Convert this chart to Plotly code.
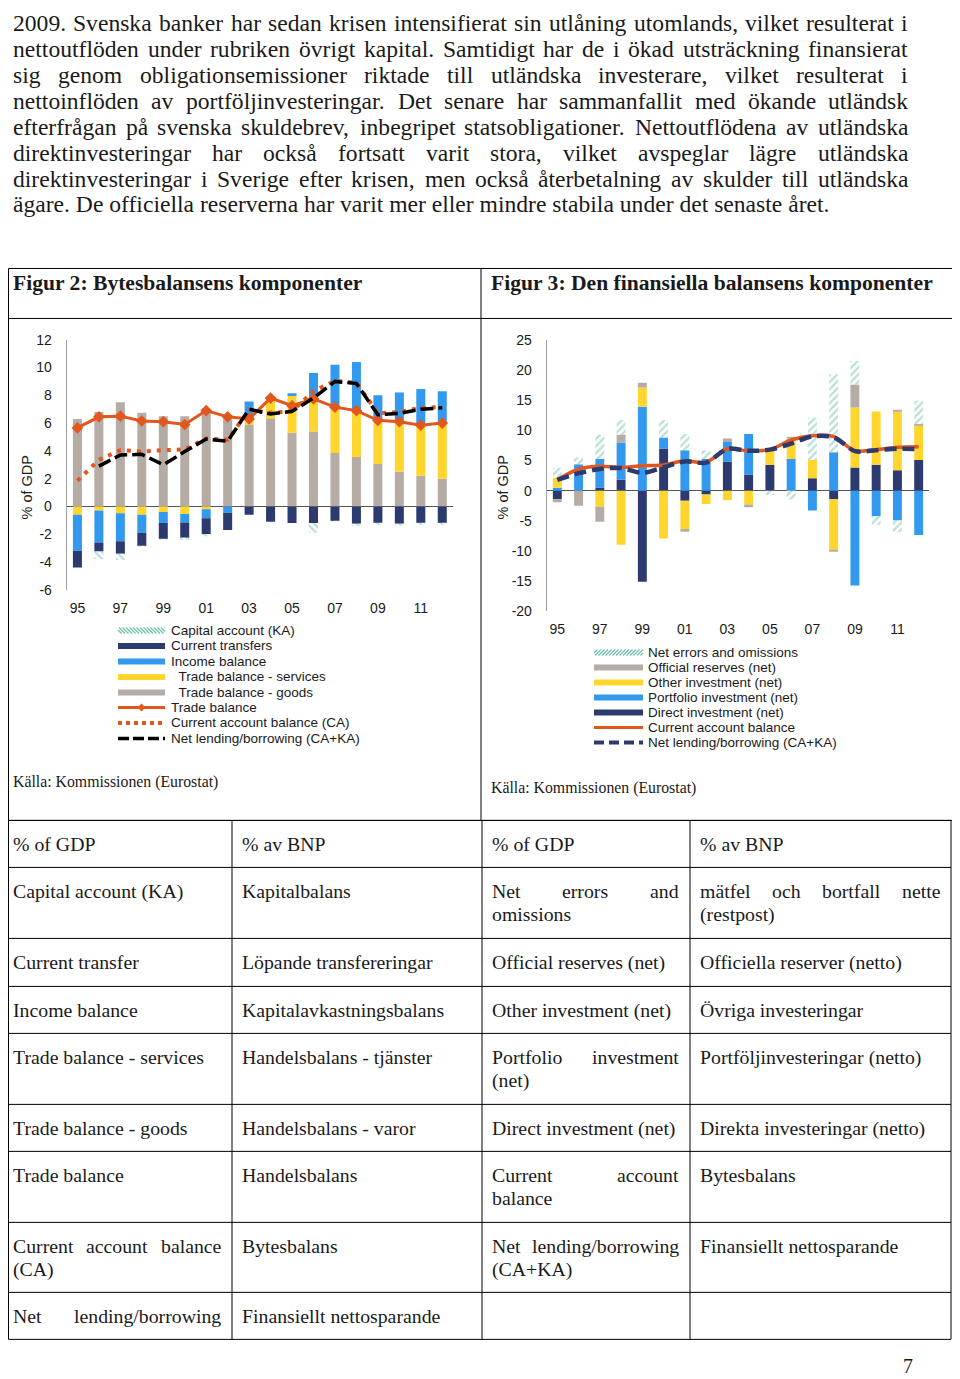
import plotly.graph_objects as go

# ---------------- data ----------------
years = [str(y) for y in range(1995, 2013)]
tick_years = ['1995', '1997', '1999', '2001', '2003', '2005', '2007', '2009', '2011']
tick_text = ['95', '97', '99', '01', '03', '05', '07', '09', '11']
f2_yticks = [-6, -4, -2, 0, 2, 4, 6, 8, 10, 12]
f3_yticks = [-20, -15, -10, -5, 0, 5, 10, 15, 20, 25]

# Figur 2: Bytesbalansens komponenter (% of GDP)
trade_goods = [6.3, 6.8, 7.5, 6.75, 6.5, 6.5, 6.9, 6.35, 5.9, 6.35, 5.3, 5.4, 3.85, 3.55, 3.05, 2.5, 2.2, 2.0]
trade_services = [-0.6, -0.3, -0.5, -0.6, -0.4, -0.55, -0.2, 0.05, 0.35, 1.35, 2.65, 2.15, 3.15, 3.2, 3.05, 3.5, 3.65, 4.0]
income_balance = [-2.6, -2.3, -2.0, -1.3, -0.8, -0.6, -0.65, -0.45, 1.3, 0.0, 0.2, 2.05, 3.2, 3.65, 1.9, 2.2, 2.6, 2.3]
current_transfers = [-1.2, -0.65, -0.9, -0.95, -1.15, -1.1, -1.15, -1.25, -0.6, -1.1, -1.2, -1.2, -1.05, -1.25, -1.2, -1.25, -1.2, -1.2]
capital_account = [0.0, -0.55, -0.45, -0.05, -0.05, -0.15, -0.15, 0.0, 0.0, 0.0, 0.0, -0.7, -0.05, -0.15, -0.1, -0.15, -0.1, -0.1]
trade_balance = [5.65, 6.45, 6.5, 6.15, 6.1, 5.9, 6.9, 6.45, 6.3, 7.8, 7.25, 7.75, 7.15, 6.9, 6.2, 6.1, 5.85, 6.0]
ca_balance_f2 = [1.85, 3.35, 4.05, 3.95, 4.05, 4.1, 4.9, 4.8, 6.95, 6.75, 6.85, 8.3, 9.05, 8.9, 6.7, 6.8, 7.1, 7.15]
net_lending_f2 = [None, 2.9, 3.7, 3.75, 3.0, 3.95, 4.85, 4.7, 7.0, 6.65, 6.85, 7.8, 9.0, 8.85, 6.6, 6.7, 7.0, 7.1]

# Figur 3: Den finansiella balansens komponenter (% of GDP)
direct_inv = [-1.4, 0.0, 0.55, 1.8, -15.1, 7.0, -1.65, -0.65, 4.85, 2.7, 4.3, 0.0, 2.05, -1.4, 3.85, 4.3, 3.4, 5.1]
portfolio_inv = [0.5, 4.4, 4.7, 6.2, 13.9, 1.8, 6.7, 5.25, 3.2, 6.7, 0.0, 5.25, -3.3, 6.35, -15.7, -4.25, -4.95, -7.35]
other_inv = [1.7, 0.0, -2.65, -8.95, 3.2, -7.9, -4.7, -1.55, -1.6, -2.3, 2.6, 3.4, 3.05, -8.45, 9.95, 8.8, 9.7, 5.8]
official_reserves = [-0.5, -2.5, -2.5, 1.3, 0.8, 0.0, -0.45, 0.0, 0.6, -0.45, 0.0, 0.3, 0.0, -0.2, 3.8, 0.0, 0.15, 0.2]
errors_omissions = [1.6, 1.1, 4.0, 2.4, 0.0, 2.9, 2.7, 1.45, 0.0, 0.0, -0.7, -1.45, 7.0, 12.95, 3.9, -1.4, -1.95, 3.8]
ca_balance_f3 = [1.8, 3.6, 4.05, 3.85, 4.15, 4.25, 4.95, 4.7, 6.9, 6.6, 6.8, 8.4, 9.1, 8.95, 6.6, 6.8, 7.2, 7.3]
net_lending_f3 = [1.8, 2.9, 3.6, 3.75, 2.95, 3.9, 4.85, 4.65, 6.95, 6.6, 6.8, 7.8, 9.0, 8.85, 6.55, 6.7, 6.95, 6.9]

legend_f2 = ['Capital account (KA)', 'Current transfers', 'Income balance', '  Trade balance - services',
             '  Trade balance - goods', 'Trade balance', 'Current account balance (CA)', 'Net lending/borrowing (CA+KA)']
legend_f3 = ['Net errors and omissions', 'Official reserves (net)', 'Other investment (net)',
             'Portfolio investment (net)', 'Direct investment (net)', 'Current account balance',
             'Net lending/borrowing (CA+KA)']

paragraph_lines = [
    "2009. Svenska banker har sedan krisen intensifierat sin utlåning utomlands, vilket resulterat i",
    "nettoutflöden under rubriken övrigt kapital. Samtidigt har de i ökad utsträckning finansierat",
    "sig genom obligationsemissioner riktade till utländska investerare, vilket resulterat i",
    "nettoinflöden av portföljinvesteringar. Det senare har sammanfallit med ökande utländsk",
    "efterfrågan på svenska skuldebrev, inbegripet statsobligationer. Nettoutflödena av utländska",
    "direktinvesteringar har också fortsatt varit stora, vilket avspeglar lägre utländska",
    "direktinvesteringar i Sverige efter krisen, men också återbetalning av skulder till utländska",
    "ägare. De officiella reserverna har varit mer eller mindre stabila under det senaste året.",
]
fig2_title = "Figur 2: Bytesbalansens komponenter"
fig3_title = "Figur 3: Den finansiella balansens komponenter"
source_text = "Källa: Kommissionen (Eurostat)"
table_rows = [
    ["% of GDP", "% av BNP", "% of GDP", "% av BNP"],
    ["Capital account (KA)", "Kapitalbalans", "Net errors and|omissions", "mätfel och bortfall nette|(restpost)"],
    ["Current transfer", "Löpande transfereringar", "Official reserves (net)", "Officiella reserver (netto)"],
    ["Income balance", "Kapitalavkastningsbalans", "Other investment (net)", "Övriga investeringar"],
    ["Trade balance - services", "Handelsbalans - tjänster", "Portfolio investment|(net)", "Portföljinvesteringar (netto)"],
    ["Trade balance - goods", "Handelsbalans - varor", "Direct investment (net)", "Direkta investeringar (netto)"],
    ["Trade balance", "Handelsbalans", "Current account|balance", "Bytesbalans"],
    ["Current account balance|(CA)", "Bytesbalans", "Net lending/borrowing|(CA+KA)", "Finansiellt nettosparande"],
    ["Net lending/borrowing|", "Finansiellt nettosparande", "", ""],
]
page_number = "7"

# ---------------- page geometry ----------------
# page coordinates are measured on the 960x1379 reference; the figure sits
# 8px in from the left page edge and slightly lower/compressed vertically
OX = 8
TOP, SY = 15.5, 0.9885
FW, FH = 952, 1379
SERIF = 'Liberation Serif'
SANS = 'Liberation Sans'
GRAY = '#B6ACA6'
YELLOW = '#FFD52E'
BLUE = '#3399EE'
NAVY = '#2C3A70'
TEAL = '#6FC0AA'
ORANGE = '#E2571E'
TEXTC = '#1a1a1a'


def clampx(x):
    return min(max(x, OX + 0.5), OX + FW - 0.5)


def px(x):
    return (x - OX) / FW


def py(y):
    return 1 - ((y - TOP) / SY) / FH


# Times New Roman compatible advance widths (per 1000 em)
TW = dict(a=444, b=500, c=444, d=500, e=444, f=333, g=500, h=500, i=278, j=278, k=500, l=278, m=778,
          n=500, o=500, p=500, q=500, r=333, s=389, t=278, u=500, v=500, w=722, x=500, y=500, z=444,
          A=722, B=667, C=667, D=722, E=611, F=556, G=722, H=722, I=333, J=389, K=722, L=611, M=889,
          N=722, O=722, P=556, Q=722, R=667, S=556, T=611, U=722, V=722, W=944, X=722, Y=722, Z=611)
TW.update({' ': 250, '.': 250, ',': 250, ':': 278, '-': 333, '/': 278, '(': 333, ')': 333, '%': 833,
           '+': 564, 'å': 444, 'ä': 444, 'ö': 500, 'Ö': 722, 'Ä': 722, 'Å': 722})
for d in '0123456789':
    TW[d] = 500


def measure(s, size):
    return sum(TW.get(c, 500) for c in s) * size / 1000.0


annotations = []
shapes = []


def text(x, y, s, size, family=SERIF, color=TEXTC, bold=False, xanchor='left', angle=0):
    if bold:
        s = '<b>' + s + '</b>'
    annotations.append(dict(x=px(x), y=py(y), xref='paper', yref='paper', text=s, showarrow=False,
                            xanchor=xanchor, yanchor='middle', textangle=angle, borderpad=0, borderwidth=0,
                            font=dict(family=family, size=size, color=color)))


def justify(s, x0, x1, y, size):
    words = s.split()
    if len(words) < 2:
        text(x0, y, s, size)
        return
    widths = [measure(w, size) for w in words]
    gap = (x1 - x0 - sum(widths)) / (len(words) - 1)
    x = x0
    for w, wd in zip(words, widths):
        text(x, y, w, size)
        x += wd + gap


def line(x0, y0, x1, y1, color='black', width=1, dash='solid'):
    shapes.append(dict(type='line', xref='paper', yref='paper', x0=px(clampx(x0)), y0=py(y0),
                       x1=px(clampx(x1)), y1=py(y1), line=dict(color=color, width=width, dash=dash)))


def rect(x0, y0, x1, y1, color):
    shapes.append(dict(type='rect', xref='paper', yref='paper', x0=px(x0), y0=py(y1), x1=px(x1), y1=py(y0),
                       fillcolor=color, line=dict(width=0)))


def hatch(x0, y0, x1, y1, direction, color, step=3.5):
    h = y1 - y0
    t = x0 - h
    while t < x1:
        a, b = max(t, x0), min(t + h, x1)
        if a < b:
            if direction == '/':
                line(a, y1 - (a - t), b, y1 - (b - t), color, 1.3)
            else:
                line(a, y0 + (a - t), b, y0 + (b - t), color, 1.3)
        t += step


# ---------------- page text ----------------
for i, ln in enumerate(paragraph_lines):
    yy = 22.5 + 25.93 * i
    if i < len(paragraph_lines) - 1:
        justify(ln, 13, 908, yy, 23.6)
    else:
        text(13, yy, ln, 23.6)

# figure box
line(3, 268, 957, 268)
line(3, 318, 957, 318)
line(3, 820, 957, 820)
line(3, 268, 3, 820)
line(481, 268, 481, 820)
line(957, 268, 957, 820)
text(13, 283, fig2_title, 21.6, bold=True)
text(491, 283, fig3_title, 21.6, bold=True)
text(13, 782, source_text, 15.8)
text(491, 788, source_text, 15.8)

# lower table
row_lines = [820, 867, 938, 986, 1033, 1104, 1151, 1222, 1292, 1339]
col_lines = [3, 232, 482, 690, 951]
for yv in row_lines:
    line(3, yv, 951, yv)
for xv in col_lines:
    line(xv, 820, xv, 1339)
for r, row in enumerate(table_rows):
    top = row_lines[r]
    for c, cell in enumerate(row):
        if not cell:
            continue
        x0 = col_lines[c] + 10
        x1 = col_lines[c + 1] - 11
        if '|' in cell:
            first, second = cell.split('|')
            justify(first, x0, x1, top + 24, 19.8)
            if second:
                text(x0, top + 47, second, 19.8)
        else:
            text(x0, top + 24, cell, 19.8)
text(903, 1366, page_number, 20)

# ---------------- charts ----------------
fig = go.Figure()


def bar(y, color, xa, ya, pattern=None):
    marker = dict(color=color, line=dict(width=0))
    if pattern:
        marker = dict(color='white', line=dict(width=0),
                      pattern=dict(shape=pattern, fgcolor=TEAL, bgcolor='white', size=5, solidity=0.45))
    return go.Bar(x=years, y=y, marker=marker, width=0.42, xaxis=xa, yaxis=ya, showlegend=False,
                  hoverinfo='skip')


# Figure 2 bars (stack order from zero outward)
fig.add_trace(bar(trade_goods, GRAY, 'x', 'y'))
fig.add_trace(bar(trade_services, YELLOW, 'x', 'y'))
fig.add_trace(bar(income_balance, BLUE, 'x', 'y'))
fig.add_trace(bar(current_transfers, NAVY, 'x', 'y'))
fig.add_trace(bar(capital_account, None, 'x', 'y', pattern='\\'))
fig.add_trace(go.Scatter(x=years, y=trade_balance, mode='lines+markers', xaxis='x', yaxis='y',
                         line=dict(color=ORANGE, width=3), marker=dict(symbol='diamond', size=9, color=ORANGE),
                         showlegend=False, hoverinfo='skip'))
fig.add_trace(go.Scatter(x=years, y=ca_balance_f2, mode='lines', xaxis='x', yaxis='y',
                         line=dict(color=ORANGE, width=4, dash='4px,6px'), showlegend=False, hoverinfo='skip'))
fig.add_trace(go.Scatter(x=years, y=net_lending_f2, mode='lines', xaxis='x', yaxis='y',
                         line=dict(color='black', width=3.5, dash='13px,5px'), showlegend=False, hoverinfo='skip'))

# Figure 3 bars
fig.add_trace(bar(direct_inv, NAVY, 'x2', 'y2'))
fig.add_trace(bar(portfolio_inv, BLUE, 'x2', 'y2'))
fig.add_trace(bar(other_inv, YELLOW, 'x2', 'y2'))
fig.add_trace(bar(official_reserves, GRAY, 'x2', 'y2'))
fig.add_trace(bar(errors_omissions, None, 'x2', 'y2', pattern='/'))
fig.add_trace(go.Scatter(x=years, y=ca_balance_f3, mode='lines', xaxis='x2', yaxis='y2',
                         line=dict(color=ORANGE, width=3.5, shape='spline', smoothing=0.8),
                         showlegend=False, hoverinfo='skip'))
fig.add_trace(go.Scatter(x=years, y=net_lending_f3, mode='lines', xaxis='x2', yaxis='y2',
                         line=dict(color=NAVY, width=4.5, dash='12px,6px', shape='spline', smoothing=0.8),
                         showlegend=False, hoverinfo='skip'))

tickfont = dict(family=SANS, size=14, color=TEXTC)


def xaxis(x0, x1, anchor):
    return dict(domain=[px(x0), px(x1)], anchor=anchor, type='category', range=[-0.5, 17.5],
                tickmode='array', tickvals=tick_years, ticktext=tick_text, showgrid=False, zeroline=False,
                showline=False, ticks='', tickfont=tickfont, ticklabelstandoff=8, fixedrange=True)


def yaxis(ytop, ybot, lo, hi, ticks, anchor):
    return dict(domain=[py(ybot), py(ytop)], anchor=anchor, range=[lo, hi],
                tickmode='array', tickvals=ticks, ticktext=[str(t) for t in ticks],
                showgrid=False, zeroline=True, zerolinecolor='#555555', zerolinewidth=1,
                showline=True, linecolor='#a0a0a0', linewidth=1, ticks='', tickfont=tickfont,
                ticklabelstandoff=11, fixedrange=True)


# y-axis titles
text(27, 487, '% of GDP', 14.5, family=SANS, xanchor='center', angle=-90)
text(503, 487, '% of GDP', 14.5, family=SANS, xanchor='center', angle=-90)

# manual legends
# Figure 2
lx0, lx1, tx = 118, 165, 171
ys2 = [630, 645.5, 661, 676.5, 692, 707, 722.5, 738]
hatch(lx0, ys2[0] - 3, lx1, ys2[0] + 3, '\\', TEAL)
rect(lx0, ys2[1] - 3, lx1, ys2[1] + 3, NAVY)
rect(lx0, ys2[2] - 3, lx1, ys2[2] + 3, BLUE)
rect(lx0, ys2[3] - 3, lx1, ys2[3] + 3, YELLOW)
rect(lx0, ys2[4] - 3, lx1, ys2[4] + 3, GRAY)
line(lx0, ys2[5], lx1, ys2[5], ORANGE, 3)
cx, cy = (lx0 + lx1) / 2, ys2[5]
shapes.append(dict(type='path', xref='paper', yref='paper',
                   path='M {} {} L {} {} L {} {} L {} {} Z'.format(px(cx - 4), py(cy), px(cx), py(cy - 4),
                                                                  px(cx + 4), py(cy), px(cx), py(cy + 4)),
                   fillcolor=ORANGE, line=dict(width=0)))
line(lx0, ys2[6], lx1, ys2[6], ORANGE, 4, '4px,4px')
line(lx0, ys2[7], lx1, ys2[7], 'black', 3.5, '11px,4px')
for yy, lbl in zip(ys2, legend_f2):
    text(tx, yy, lbl.replace('  ', '&nbsp;&nbsp;'), 13.5, family=SANS)

# Figure 3
lx0, lx1, tx = 594, 643, 648
ys3 = [652, 667, 682, 697, 712, 727, 742]
hatch(lx0, ys3[0] - 3, lx1, ys3[0] + 3, '/', TEAL)
rect(lx0, ys3[1] - 3, lx1, ys3[1] + 3, GRAY)
rect(lx0, ys3[2] - 3, lx1, ys3[2] + 3, YELLOW)
rect(lx0, ys3[3] - 3, lx1, ys3[3] + 3, BLUE)
rect(lx0, ys3[4] - 3, lx1, ys3[4] + 3, NAVY)
line(lx0, ys3[5], lx1, ys3[5], ORANGE, 3)
line(lx0, ys3[6], lx1, ys3[6], NAVY, 4, '10px,5px')
for yy, lbl in zip(ys3, legend_f3):
    text(tx, yy, lbl, 13.5, family=SANS)

fig.update_layout(
    width=FW, height=FH, autosize=False, margin=dict(l=0, r=0, t=0, b=0),
    paper_bgcolor='white', plot_bgcolor='white', barmode='relative', showlegend=False,
    xaxis=xaxis(66.7, 453, 'y'),
    yaxis=yaxis(339.3, 589.3, -6, 12, f2_yticks, 'x'),
    xaxis2=xaxis(546.7, 929.3, 'y2'),
    yaxis2=yaxis(339.3, 611, -20, 25, f3_yticks, 'x2'),
    annotations=annotations, shapes=shapes,
)

fig.write_html("out.html")
